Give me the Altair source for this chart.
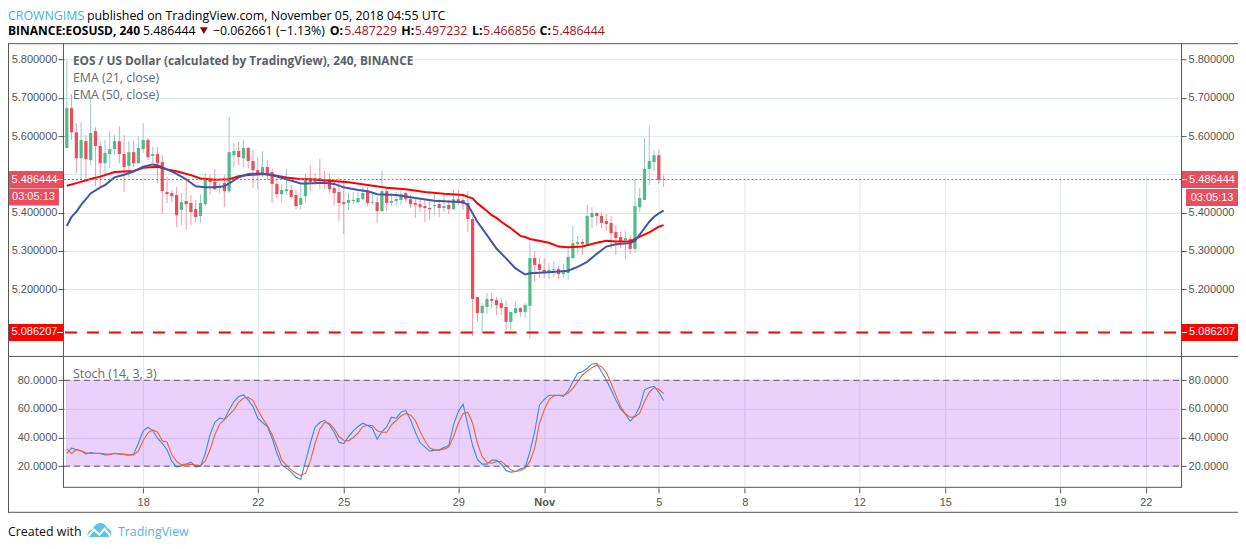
import altair as alt
import pandas as pd

# ---------- data ----------
opens = [5.569,5.673,5.610,5.542,5.587,5.537,5.613,5.574,5.529,5.553,5.566,5.587,5.553,5.522,5.558,5.529,5.566,5.590,5.548,5.553,
5.532,5.454,5.451,5.446,5.407,5.430,5.425,5.409,5.391,5.422,5.488,5.480,5.464,5.477,5.456,5.550,5.561,5.542,5.569,5.535,
5.511,5.501,5.519,5.506,5.475,5.448,5.456,5.459,5.446,5.420,5.443,5.488,5.480,5.490,5.485,5.488,5.464,5.454,5.427,5.425,
5.430,5.427,5.435,5.454,5.425,5.427,5.404,5.456,5.425,5.430,5.433,5.451,5.435,5.425,5.422,5.417,5.412,5.417,5.422,5.412,
5.420,5.409,5.435,5.433,5.425,5.383,5.179,5.137,5.153,5.174,5.171,5.163,5.153,5.114,5.137,5.150,5.140,5.156,5.281,5.265,
5.250,5.242,5.250,5.252,5.239,5.242,5.281,5.318,5.323,5.318,5.388,5.399,5.391,5.378,5.373,5.349,5.336,5.328,5.331,5.305,
5.414,5.433,5.514,5.532,5.550,5.487229]
highs = [5.799,5.710,5.634,5.637,5.603,5.703,5.623,5.587,5.590,5.613,5.603,5.626,5.603,5.587,5.587,5.600,5.634,5.595,5.571,5.571,
5.550,5.493,5.459,5.467,5.451,5.485,5.446,5.433,5.448,5.503,5.498,5.514,5.477,5.498,5.650,5.582,5.585,5.590,5.571,5.563,
5.545,5.561,5.537,5.516,5.490,5.475,5.514,5.472,5.459,5.472,5.501,5.524,5.503,5.540,5.509,5.503,5.488,5.490,5.485,5.451,
5.454,5.454,5.467,5.467,5.451,5.441,5.509,5.467,5.451,5.454,5.461,5.454,5.446,5.441,5.435,5.433,5.433,5.451,5.435,5.446,
5.433,5.459,5.459,5.446,5.456,5.388,5.179,5.163,5.190,5.190,5.179,5.177,5.169,5.140,5.166,5.153,5.163,5.328,5.299,5.281,
5.281,5.268,5.273,5.260,5.265,5.307,5.365,5.339,5.331,5.420,5.414,5.401,5.401,5.396,5.391,5.367,5.349,5.352,5.341,5.488,
5.464,5.595,5.626,5.563,5.566,5.497232]
lows = [5.569,5.590,5.503,5.485,5.490,5.524,5.469,5.467,5.493,5.516,5.550,5.529,5.454,5.493,5.519,5.529,5.556,5.537,5.529,5.477,
5.396,5.425,5.427,5.362,5.367,5.354,5.367,5.375,5.373,5.417,5.446,5.459,5.451,5.414,5.451,5.519,5.524,5.519,5.516,5.464,
5.461,5.493,5.485,5.425,5.438,5.427,5.446,5.435,5.409,5.409,5.427,5.456,5.472,5.461,5.461,5.451,5.420,5.378,5.344,5.407,
5.422,5.425,5.433,5.417,5.420,5.373,5.401,5.404,5.417,5.417,5.420,5.427,5.412,5.386,5.401,5.375,5.380,5.393,5.388,5.401,
5.396,5.407,5.420,5.407,5.349,5.077,5.114,5.085,5.135,5.150,5.132,5.132,5.093,5.088,5.135,5.127,5.124,5.069,5.218,5.229,
5.229,5.226,5.231,5.226,5.229,5.224,5.278,5.292,5.289,5.315,5.359,5.365,5.359,5.352,5.305,5.289,5.307,5.278,5.292,5.294,
5.401,5.433,5.472,5.509,5.475,5.466856]
closes = [5.673,5.610,5.542,5.590,5.540,5.608,5.574,5.529,5.556,5.566,5.587,5.553,5.519,5.558,5.529,5.569,5.590,5.545,5.553,5.529,
5.456,5.448,5.443,5.393,5.427,5.422,5.401,5.388,5.425,5.488,5.480,5.461,5.469,5.456,5.558,5.561,5.545,5.569,5.535,5.511,
5.503,5.519,5.501,5.475,5.448,5.459,5.461,5.441,5.417,5.438,5.485,5.480,5.490,5.485,5.482,5.461,5.451,5.425,5.422,5.433,
5.433,5.438,5.451,5.425,5.427,5.404,5.456,5.425,5.430,5.435,5.448,5.435,5.422,5.420,5.414,5.412,5.409,5.420,5.412,5.417,
5.409,5.435,5.425,5.422,5.383,5.174,5.137,5.156,5.174,5.169,5.158,5.150,5.114,5.140,5.150,5.140,5.158,5.281,5.263,5.250,
5.242,5.250,5.252,5.239,5.244,5.284,5.320,5.323,5.318,5.391,5.399,5.391,5.373,5.370,5.346,5.333,5.325,5.333,5.305,5.417,
5.438,5.514,5.535,5.550,5.485,5.486444]

ema50_bar = [0,2,5,7,10,14,16,19,21,23,26,28,31,34,36,38,41,43,46,49,51,55,59,63,67,71,75,79,83,84,85,86,88,89,90,91,93,95,96,97,101,103,105,108,111,113,115,118,120,122,124,125]
ema50_val = [5.470,5.477,5.488,5.494,5.506,5.509,5.517,5.520,5.513,5.508,5.498,5.489,5.486,5.487,5.495,5.498,5.501,5.498,5.492,5.487,5.487,5.483,5.479,5.472,5.465,5.461,5.454,5.449,5.446,5.441,5.437,5.424,5.404,5.393,5.386,5.376,5.359,5.339,5.336,5.331,5.321,5.311,5.309,5.311,5.321,5.326,5.324,5.324,5.337,5.348,5.363,5.367]
ema21_bar = [0,1,2,3,5,7,8,10,12,14,16,18,19,21,23,25,27,29,31,33,34,36,38,41,43,46,49,50,54,56,58,61,63,65,69,73,77,81,83,84,86,88,90,92,94,96,97,101,105,107,109,111,113,115,118,119,121,122,123,124,125]
ema21_val = [5.365,5.389,5.402,5.420,5.450,5.466,5.472,5.492,5.499,5.507,5.520,5.526,5.524,5.513,5.501,5.487,5.469,5.466,5.466,5.469,5.476,5.492,5.501,5.502,5.498,5.487,5.476,5.476,5.478,5.475,5.466,5.459,5.456,5.448,5.446,5.438,5.431,5.428,5.427,5.420,5.376,5.341,5.306,5.280,5.254,5.238,5.241,5.244,5.248,5.258,5.271,5.292,5.311,5.317,5.320,5.326,5.359,5.376,5.389,5.398,5.405]

stoch_k = [29,32.6,31.6,30.7,28.4,29.5,29,28.8,27.9,28,29,28.6,28,27.7,28.4,36,44.7,47.2,44.7,39.5,36,31.4,23.3,19.5,20.2,21.4,22.8,19.5,19.8,29,41.9,50.7,53.5,52.8,59.3,65.1,68.6,69.8,66.3,61.6,53.5,50.5,47.7,39.5,29,20.9,18.6,15.8,12.3,10.9,23.3,36,47.2,50.5,52,48.8,43.7,36.7,35.8,40.7,44.7,47.7,
50,48.4,46.5,38.8,44.2,47.4,54.2,53.5,57.7,59,52.3,43.7,36.5,33.5,30.5,31.2,31.4,33,34.4,48.8,58.1,63.3,48.8,34.4,24.7,21.4,21.4,24.2,24.2,21.4,17,15.8,16.3,18.1,19,30.2,44.2,62.8,66.7,69.5,69.5,69.5,68.8,72.6,79,84.9,86,88.4,91.4,91.9,86,80.2,73.3,66.3,59.8,56.3,51.4,55.1,61.6,73.3,74.9,75.8,71.6,65.8]
stoch_d = [31.9,28.8,31.4,30.7,29.3,28.8,29,29,28.6,28.4,28.8,28.6,28.4,27.9,27.9,30.7,37.7,43.3,45.3,43.7,37.7,36.7,27.9,23.3,20.9,21.4,21.2,20.9,20.2,23.7,31.4,41.9,49.3,52.3,55.8,59.3,64.7,67.4,68.1,65.8,59.3,53.5,48.5,41.9,33.7,24.4,20.5,17.4,15.1,13.5,15.1,23.3,36,46,50.5,50,46,40.7,38.1,37.7,40,43,
47.7,48.6,48.4,44.7,43.7,43.7,48.8,51.9,55.1,56.7,55.8,51.9,44.2,37.7,32.6,31.4,31.2,31.9,33.3,40.7,50,56.7,57.7,50,36,26.7,22.6,22.1,23.3,23.3,20.5,17.4,16.3,17,18.6,23.3,32.6,50,59.3,66.3,69.1,69.5,69.5,70.9,74.4,79,83.7,86.5,88.8,90.7,89.5,85.6,77.9,69.8,61.6,56.5,54.2,54.4,57,65.1,71.6,74.9,73.7,70.7]

price_ticks = [5.2,5.3,5.4,5.5,5.6,5.7,5.8]
stoch_ticks = [20,40,60,80]
date_ticks = ["2018-10-18","2018-10-22","2018-10-25","2018-10-29","2018-11-01","2018-11-05","2018-11-08","2018-11-12","2018-11-15","2018-11-19","2018-11-22"]
last_price = 5.486444
level_price = 5.086207
stoch_band = [80,20]

# ---------- frames ----------
def ms(s):
    return int(pd.Timestamp(s, tz="UTC").value // 10**6)

first_bar = pd.Timestamp("2018-10-15 08:00", tz="UTC")
def stamp(i):
    return (first_bar + pd.Timedelta(hours=4 * int(i))).strftime("%Y-%m-%dT%H:%M:%SZ")

idx = list(range(len(opens)))
candles = pd.DataFrame({"t": [stamp(i) for i in idx], "open": opens, "high": highs, "low": lows, "close": closes})
ema50 = pd.DataFrame({"t": [stamp(i) for i in ema50_bar], "v": ema50_val})
ema21 = pd.DataFrame({"t": [stamp(i) for i in ema21_bar], "v": ema21_val})
stoch = pd.DataFrame({"t": [stamp(i) for i in idx], "k": stoch_k, "d": stoch_d})
unit = pd.DataFrame({"a": [0]})

# ---------- style ----------
AXIS = "#555555"
GRID = "#dde8f0"
UP, DOWN = "#53b987", "#eb4d5c"
UP_W, DOWN_W = "#9cc9ca", "#f39aa4"
AF = "Liberation Sans"
HF = "Open Sans"

PRICE_H, STOCH_H = 312, 132

x_scale = alt.Scale(type="utc", domain=[ms("2018-10-15 05:37"), ms("2018-11-23 05:31")], nice=False)
py_scale = alt.Scale(domain=[5.0249, 5.8405], range=[PRICE_H, 0], nice=False, zero=False)
sy_scale = alt.Scale(domain=[4.86, 97.0], range=[PRICE_H + STOCH_H, PRICE_H], nice=False, zero=False)
tick_vals = [ms(d) for d in date_ticks]

x_axis = alt.Axis(values=tick_vals, grid=True, gridColor=GRID, domain=False, title=None, tickColor=AXIS,
                  tickSize=5, labelColor=AXIS, labelFont=AF, labelFontSize=11, labelPadding=4,
                  labelExpr="utcdate(datum.value)==1 ? 'Nov' : utcFormat(datum.value,'%-d')",
                  labelFontWeight=alt.expr("utcdate(datum.value)==1 ? 'bold' : 'normal'"), labelFlush=False, labelOverlap=False)
X = alt.X("t:T", scale=x_scale, axis=x_axis)

def y_axis(vals, label_expr, orient, grid):
    return alt.Axis(values=vals, labelExpr=label_expr, orient=orient, grid=grid, gridColor=GRID, domain=False, title=None,
                    tickColor=AXIS, tickSize=6 if orient == "left" else 5, labelColor=AXIS, labelFont=AF, labelFontSize=11,
                    labelPadding=1 if orient == "left" else 2, labelOverlap=False)

# the 5.5 label sits under the last-price tag in the reference, so it stays blank
PRICE_LABEL = "abs(datum.value-5.5)<0.01 ? '' : format(datum.value,'.6f')"
STOCH_LABEL = "format(datum.value,'.4f')"

def txt(s, x, y, color="#000000", size=12.4, weight="normal", font=HF, align="left", baseline="alphabetic"):
    return alt.Chart(unit).mark_text(text=s, color=color, fontSize=size, fontWeight=weight, font=font,
                                     align=align, baseline=baseline).encode(x=alt.value(x), y=alt.value(y))

def rule(x, x2, y, y2, color=AXIS, width=1, **kw):
    return alt.Chart(unit).mark_rule(color=color, strokeWidth=width, **kw).encode(
        x=alt.value(x), x2=alt.value(x2), y=alt.value(y), y2=alt.value(y2))

def level(df, y_scale, x1, x2, color, width, **kw):
    return alt.Chart(df).mark_rule(color=color, strokeWidth=width, **kw).encode(
        x=alt.value(x1), x2=alt.value(x2), y=alt.Y("v:Q", scale=y_scale, axis=None))

def is_up():
    return "datum.close >= datum.open"

# page coordinates -> plot coordinates (plot origin at page x=64, y=44)
def PX(x): return x - 64
def PY(y): return y - 44

last_df = pd.DataFrame({"v": [last_price]})
level_df = pd.DataFrame({"v": [level_price]})

wicks = alt.Chart(candles).mark_rule(strokeWidth=1).encode(
    x=X,
    y=alt.Y("low:Q", scale=py_scale, axis=y_axis(price_ticks, PRICE_LABEL, "left", True)),
    y2="high:Q",
    color=alt.condition(is_up(), alt.value(UP_W), alt.value(DOWN_W)),
)
bodies = alt.Chart(candles).mark_rule(strokeWidth=3.2).encode(
    x=X,
    y=alt.Y("open:Q", scale=py_scale, axis=None),
    y2="close:Q",
    color=alt.condition(is_up(), alt.value(UP), alt.value(DOWN)),
)
line50 = alt.Chart(ema50).mark_line(color="#ff0000", strokeWidth=2).encode(
    x=X, y=alt.Y("v:Q", scale=py_scale, axis=y_axis(price_ticks, PRICE_LABEL, "right", False)))
line21 = alt.Chart(ema21).mark_line(color="#3f55ae", strokeWidth=2).encode(
    x=X, y=alt.Y("v:Q", scale=py_scale, axis=None))

def price_label(df, text, box):
    tw = alt.Chart(df).mark_text(text=text, color="#ffffff", font=AF, fontSize=11, align="center", baseline="middle")
    return [
        level(df, py_scale, PX(8), PX(64), box, 17),
        level(df, py_scale, PX(1182), PX(1239), box, 17),
        level(df, py_scale, PX(57), PX(63), "#ffffff", 1),
        level(df, py_scale, PX(1183), PX(1188), "#ffffff", 1),
        tw.encode(x=alt.value(PX(34.5)), y=alt.Y("v:Q", scale=py_scale, axis=None)),
        tw.encode(x=alt.value(PX(1213)), y=alt.Y("v:Q", scale=py_scale, axis=None)),
    ]

band_df = pd.DataFrame({"top": [stoch_band[0]], "bot": [stoch_band[1]]})
band_line = pd.DataFrame({"v": stoch_band})

band = alt.Chart(band_df).mark_rect(color="#9915ee", opacity=0.2).encode(
    x=alt.value(2), x2=alt.value(1117),
    y=alt.Y("top:Q", scale=sy_scale, axis=y_axis(stoch_ticks, STOCH_LABEL, "left", True)),
    y2="bot:Q")
k_line = alt.Chart(stoch).mark_line(color="#2f8ff0", strokeWidth=1.1).encode(
    x=X, y=alt.Y("k:Q", scale=sy_scale, axis=y_axis(stoch_ticks, STOCH_LABEL, "right", False)))
d_line = alt.Chart(stoch).mark_line(color="#f4612c", strokeWidth=1.1).encode(
    x=X, y=alt.Y("d:Q", scale=sy_scale, axis=None))

cloud = ("M-1,0.45 C-1,0.15 -0.75,0 -0.55,-0.05 C-0.45,-0.4 -0.1,-0.6 0.2,-0.55 C0.45,-0.5 0.6,-0.3 0.62,-0.15 "
         "C0.85,-0.1 1,0.1 1,0.3 C1,0.5 0.85,0.6 0.7,0.6 L-0.7,0.6 C-0.85,0.6 -1,0.55 -1,0.45 Z")
zigzag = "M-0.95,0.55 L-0.45,0.0 L0,0.42 L0.42,-0.08 L0.95,0.55"

layers = [
    wicks, bodies, line50, line21,
    level(last_df, py_scale, 0, 1118, DOWN, 1, strokeDash=[2, 2]),
    level(level_df, py_scale, 1, 1118, "#ff0000", 2.2, strokeDash=[12, 10]),
    *price_label(last_df, "5.486444", DOWN),
    *price_label(level_df, "5.086207", "#ff0000"),
    rule(PX(8), PX(59), PY(197), PY(197), color=DOWN, width=17),
    rule(PX(1187), PX(1239), PY(197.5), PY(197.5), color=DOWN, width=17),
    txt("03:05:13", PX(33.5), PY(197), "#ffffff", 11, font=AF, align="center", baseline="middle"),
    txt("03:05:13", PX(1213), PY(197.5), "#ffffff", 11, font=AF, align="center", baseline="middle"),
    # stochastic pane
    band, k_line, d_line,
    level(band_line, sy_scale, 0, 1118, "#5f5566", 1, strokeDash=[6, 4]),
    txt("Stoch (14, 3, 3)", PX(73), PY(378), "#666a73"),
    # frame
    rule(PX(8), PX(1240), -0.5, -0.5),
    rule(PX(8), PX(1240), 312.5, 312.5),
    rule(-0.5, 1118.5, 443.5, 443.5),
    rule(PX(8), PX(1240), 468.5, 468.5),
    rule(-55.5, -55.5, -0.5, 469),
    rule(-0.5, -0.5, -0.5, 444),
    rule(1118.5, 1118.5, -0.5, 444),
    rule(1175.5, 1175.5, -0.5, 469),
    # header
    txt("CROWNGIMS", PX(8), PY(20), "#3bb3e4"),
    txt("published on TradingView.com, November 05, 2018 04:55 UTC", PX(87), PY(20)),
    txt("BINANCE:EOSUSD, 240", PX(8), PY(35), size=12, weight="bold"),
    txt("5.486444", PX(143), PY(35)),
    alt.Chart(unit).mark_point(shape="triangle-down", filled=True, size=62, color="#8e0000", opacity=1).encode(
        x=alt.value(PX(204)), y=alt.value(PY(30.5))),
    txt("\u22120.062661 (\u22121.13%)", PX(213), PY(35)),
    txt("O:", PX(330), PY(35), weight="bold"),
    txt("5.487229", PX(344.5), PY(35), "#a8141c"),
    txt("H:", PX(401.5), PY(35), weight="bold"),
    txt("5.497232", PX(415), PY(35), "#a8141c"),
    txt("L:", PX(472.5), PY(35), weight="bold"),
    txt("5.466856", PX(483.5), PY(35), "#a8141c"),
    txt("C:", PX(540), PY(35), weight="bold"),
    txt("5.486444", PX(552.5), PY(35), "#a8141c"),
    # study titles
    txt("EOS / US Dollar (calculated by TradingView), 240, BINANCE", PX(73), PY(65), "#5a5f68", size=11.85, weight="bold"),
    txt("EMA (21, close)", PX(73), PY(82), "#666a73"),
    txt("EMA (50, close)", PX(73), PY(99), "#666a73"),
    # footer
    txt("Created with", PX(8), PY(536), "#111111"),
    alt.Chart(unit).mark_point(shape=cloud, filled=True, size=576, color="#5cc3ea", opacity=1).encode(
        x=alt.value(PX(99.5)), y=alt.value(PY(530))),
    alt.Chart(unit).mark_point(shape=zigzag, filled=False, size=576, color="#ffffff", opacity=1, strokeWidth=2).encode(
        x=alt.value(PX(99.5)), y=alt.value(PY(530))),
    txt("TradingView", PX(118), PY(536), "#54b6e3"),
]

chart = alt.layer(*layers).resolve_scale(y="independent").resolve_axis(y="independent").properties(
    width=1118, height=PRICE_H + STOCH_H,
    autosize=alt.AutoSizeParams(type="none"),
    padding={"left": 56, "top": 36, "right": 57, "bottom": 53},
    background="#ffffff",
).configure_view(stroke=None)

chart.save("out.html", embed_options={"renderer": "svg", "actions": False})
